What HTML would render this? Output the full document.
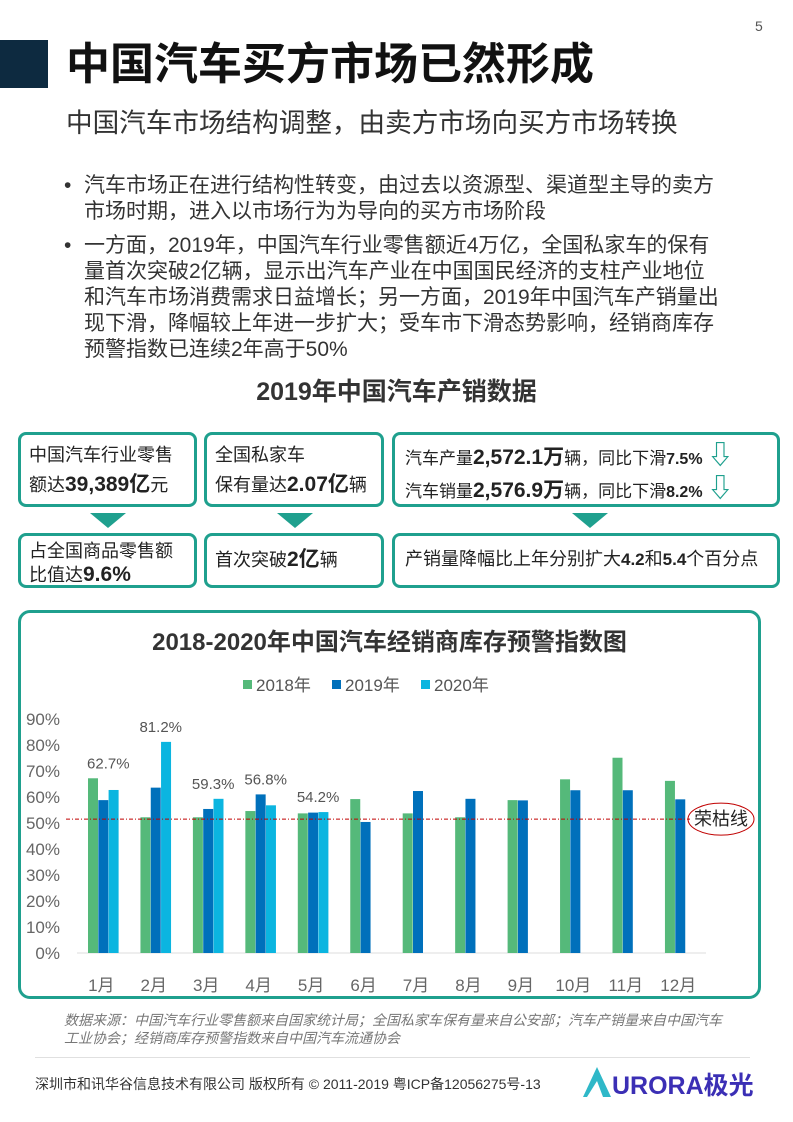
<!DOCTYPE html>
<html><head><meta charset="utf-8">
<style>
body{margin:0;width:793px;height:1122px;position:relative;background:#fff;font-family:"Liberation Sans","Noto Sans CJK SC",sans-serif;color:#333;overflow:hidden}
.a{position:absolute;white-space:nowrap}
.box{position:absolute;border:3px solid #1fa08e;border-radius:8px;box-sizing:border-box;font-size:18px;color:#222;line-height:29px;padding:6px 0 0 8px}
.tri{position:absolute;width:0;height:0;border-left:18px solid transparent;border-right:18px solid transparent;border-top:15px solid #1fa08e}
b{font-weight:bold;font-size:21px}
.bl{font-size:21px;color:#333;line-height:26px;padding-left:20px}
.bl .d{position:absolute;left:0;top:0}
</style></head><body>
<div class="a" style="left:755px;top:18px;font-size:14px;color:#555">5</div>
<div class="a" style="left:0;top:40px;width:48px;height:48px;background:#0d2a40"></div>
<div class="a" style="left:66px;top:38px;font-size:44px;font-weight:bold;color:#111;line-height:54px">中国汽车买方市场已然形成</div>
<div class="a" style="left:66px;top:106px;font-size:26.6px;color:#333;line-height:34px">中国汽车市场结构调整，由卖方市场向买方市场转换</div>
<div class="a bl" style="left:64px;top:173px"><span class="d">•</span>汽车市场正在进行结构性转变，由过去以资源型、渠道型主导的卖方<br>市场时期，进入以市场行为为导向的买方市场阶段</div>
<div class="a bl" style="left:64px;top:233px"><span class="d">•</span>一方面，2019年，中国汽车行业零售额近4万亿，全国私家车的保有<br>量首次突破2亿辆，显示出汽车产业在中国国民经济的支柱产业地位<br>和汽车市场消费需求日益增长；另一方面，2019年中国汽车产销量出<br>现下滑，降幅较上年进一步扩大；受车市下滑态势影响，经销商库存<br>预警指数已连续2年高于50%</div>
<div class="a" style="left:0;width:793px;text-align:center;top:372px;font-size:25px;font-weight:bold;color:#333">2019年中国汽车产销数据</div>

<div class="box" style="left:18px;top:432px;width:179px;height:75px">中国汽车行业零售<br>额达<b>39,389亿</b>元</div>
<div class="box" style="left:204px;top:432px;width:180px;height:75px">全国私家车<br>保有量达<b>2.07亿</b>辆</div>
<div class="box" style="left:392px;top:432px;width:388px;height:75px;padding-left:10px;font-size:17px">汽车产量<b>2,572.1万</b>辆，同比下滑<b style="font-size:16px">7.5%</b> <span style="color:#1fa08e;font-size:26px;font-weight:bold">⇩</span><br>汽车销量<b>2,576.9万</b>辆，同比下滑<b style="font-size:16px">8.2%</b> <span style="color:#1fa08e;font-size:26px;font-weight:bold">⇩</span></div>
<div class="tri" style="left:90px;top:513px"></div>
<div class="tri" style="left:277px;top:513px"></div>
<div class="tri" style="left:572px;top:513px"></div>
<div class="box" style="left:18px;top:533px;width:179px;height:55px;line-height:24px;padding-top:3px">占全国商品零售额<br>比值达<b>9.6%</b></div>
<div class="box" style="left:204px;top:533px;width:180px;height:55px;padding-top:9px">首次突破<b>2亿</b>辆</div>
<div class="box" style="left:392px;top:533px;width:388px;height:55px;padding-top:9px;padding-left:10px">产销量降幅比上年分别扩大<b style="font-size:17px">4.2</b>和<b style="font-size:17px">5.4</b>个百分点</div>

<div class="a" style="left:18px;top:610px;width:743px;height:389px;border:3px solid #1fa08e;border-radius:12px;box-sizing:border-box"></div>
<div class="a" style="left:18px;width:743px;text-align:center;top:622px;font-size:24px;font-weight:bold;color:#333">2018-2020年中国汽车经销商库存预警指数图</div>
<svg id="chart" class="a" style="left:0;top:0" width="793" height="1122"></svg>

<div class="a" style="left:64px;top:1011px;font-size:14px;color:#777;font-style:italic;line-height:18px">数据来源：中国汽车行业零售额来自国家统计局；全国私家车保有量来自公安部；汽车产销量来自中国汽车<br>工业协会；经销商库存预警指数来自中国汽车流通协会</div>
<div class="a" style="left:35px;top:1057px;width:715px;height:1px;background:#e0e0e0"></div>
<div class="a" style="left:35px;top:1074px;font-size:14px;color:#333">深圳市和讯华谷信息技术有限公司 版权所有 © 2011-2019 粤ICP备12056275号-13</div>
<svg class="a" style="left:583px;top:1067px" width="28" height="30"><polygon points="14,0 28,30 20,30 14,14 4,30 0,30" fill="#2fb8c8"/></svg>
<div class="a" style="left:612px;top:1066px;font-size:25px;font-weight:bold;color:#3b2fb5">URORA极光</div>

<script>
const months=["1月","2月","3月","4月","5月","6月","7月","8月","9月","10月","11月","12月"];
const s2018=[67.2,52.2,52.2,54.6,53.7,59.2,53.7,52.2,58.8,66.8,75.1,66.2];
const s2019=[58.8,63.6,55.4,61.0,54.0,50.4,62.3,59.3,58.7,62.6,62.6,59.1];
const s2020=[62.7,81.2,59.3,56.8,54.2];
const yTicks=[0,10,20,30,40,50,60,70,80,90];
const seriesNames=["2018年","2019年","2020年"];
const colors=["#55b97a","#0070bb","#0bb5e0"];
const NS="http://www.w3.org/2000/svg";
const svg=document.getElementById("chart");
const y0=953,pxPer=2.6;
function yS(v){return y0-v*pxPer;}
function xS(i,k){return 88+i*52.45+k*10.3;}
function mk(t,a,txt){const e=document.createElementNS(NS,t);for(const k in a)e.setAttribute(k,a[k]);if(txt!==undefined)e.textContent=txt;svg.appendChild(e);return e;}
yTicks.forEach(t=>{const e=mk("text",{x:60,y:yS(t)+6,"text-anchor":"end","font-size":17,fill:"#666","font-family":"Liberation Sans, sans-serif"},t+"%");

});
const ax=mk("line",{x1:77,x2:706,y1:y0,y2:y0,stroke:"#ddd","stroke-width":1});


[s2018,s2019,s2020].forEach((s,k)=>{s.forEach((v,i)=>{const r=mk("rect",{x:xS(i,k),y:yS(v),width:10,height:v*pxPer,fill:colors[k]});

});});
s2020.forEach((v,i)=>{const t=mk("text",{x:xS(i,1)+10,y:yS(Math.max(v,s2019[i],s2018[i]))-10,"text-anchor":"middle","font-size":15,fill:"#555","font-family":"Liberation Sans, sans-serif"},v.toFixed(1)+"%");

});
months.forEach((m,i)=>{const t=mk("text",{x:xS(i,1)+3,y:991,"text-anchor":"middle","font-size":17,fill:"#666","font-family":"Liberation Sans, Noto Sans CJK SC, sans-serif"},m);

});
const bl=mk("line",{x1:66,x2:690,y1:yS(51.5),y2:yS(51.5),stroke:"#c00000","stroke-width":1,"stroke-dasharray":"4,2,1,2"});


const el=mk("ellipse",{cx:721,cy:yS(51.5),rx:33,ry:16,fill:"none",stroke:"#c00000","stroke-width":1});


const lt=mk("text",{x:721,y:yS(51.5)+6,"text-anchor":"middle","font-size":18,fill:"#222","font-family":"Noto Sans CJK SC, sans-serif"},"荣枯线");


seriesNames.forEach((n,k)=>{const lx=243+k*89;
const r=mk("rect",{x:lx,y:680,width:9,height:9,fill:colors[k]});


const t=mk("text",{x:lx+13,y:691,"font-size":17,fill:"#555","font-family":"Liberation Sans, Noto Sans CJK SC, sans-serif"},n);

});
</script>
</body></html>
